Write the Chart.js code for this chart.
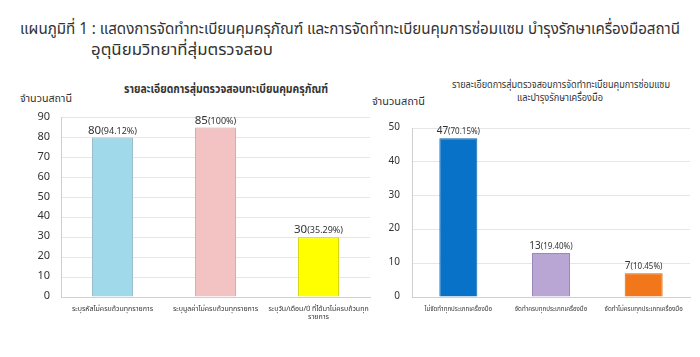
<!DOCTYPE html>
<html>
<head>
<meta charset="utf-8">
<script src="https://cdn.jsdelivr.net/npm/chart.js@4"></script>
<style>
html,body{margin:0;padding:0;background:#fff;}
body{width:700px;height:357px;position:relative;overflow:hidden;font-family:Tahoma,"Noto Sans Thai","Noto Sans","DejaVu Sans",sans-serif;color:#333;}
.t{position:absolute;white-space:nowrap;transform-origin:0 0;}
canvas{position:absolute;}
</style>
</head>
<body>
<div class="t fit" data-x="20" data-w="660" style="top:17px;font-size:16px;">แผนภูมิที่ 1 : แสดงการจัดทำทะเบียนคุมครุภัณฑ์ และการจัดทำทะเบียนคุมการซ่อมแซม บำรุงรักษาเครื่องมือสถานี</div>
<div class="t fit" data-x="91" data-w="182" style="top:38px;font-size:16px;">อุตุนิยมวิทยาที่สุ่มตรวจสอบ</div>
<div class="t fit" data-x="124" data-w="204" style="top:80px;font-size:12px;font-weight:bold;">รายละเอียดการสุ่มตรวจสอบทะเบียนคุมครุภัณฑ์</div>
<div class="t fit" data-x="20" data-w="52" style="top:90px;font-size:11px;">จำนวนสถานี</div>
<div class="t fit" data-x="452" data-w="218" style="top:77px;font-size:10px;">รายละเอียดการสุ่มตรวจสอบการจัดทำทะเบียนคุมการซ่อมแซม</div>
<div class="t fit" data-x="517" data-w="86" style="top:90px;font-size:10px;">และบำรุงรักษาเครื่องมือ</div>
<div class="t fit" data-x="372" data-w="53" style="top:93px;font-size:11px;">จำนวนสถานี</div>
<canvas id="c1" width="372" height="257" style="left:0;top:100px;width:372px;height:257px;"></canvas>
<canvas id="c2" width="340" height="247" style="left:360px;top:110px;width:340px;height:247px;"></canvas>
<script>
document.querySelectorAll('.fit').forEach(el => {
  const w = el.getBoundingClientRect().width;
  el.style.left = el.dataset.x + 'px';
  el.style.transform = 'scaleX(' + (parseFloat(el.dataset.w) / w) + ')';
});

const FONT = 'Tahoma, "Noto Sans Thai", "Noto Sans", "DejaVu Sans", sans-serif';

const leftCategories = ["ระบุรหัสไม่ครบถ้วนทุกรายการ", "ระบุมูลค่าไม่ครบถ้วนทุกรายการ", ["ระบุวัน/เดือน/ปี ที่ได้มาไม่ครบถ้วนทุก", "รายการ"]];
const leftValues = [80, 85, 30];
const leftPercents = ["(94.12%)", "(100%)", "(35.29%)"];
const leftColors = ["#9fd9ea", "#f3c2c2", "#ffff00"];
const leftBorders = ["#8fb3c0", "#c9a4a4", "#d0d000"];

const rightCategories = ["ไม่จัดทำทุกประเภทเครื่องมือ", "จัดทำครบทุกประเภทเครื่องมือ", "จัดทำไม่ครบทุกประเภทเครื่องมือ"];
const rightValues = [47, 13, 7];
const rightPercents = ["(70.15%)", "(19.40%)", "(10.45%)"];
const rightColors = ["#0872c8", "#b9a6d4", "#f2761a"];
const rightBorders = ["#0a64b0", "#9a88b8", "#d8660e"];

const valueLabelPlugin = {
  id: 'valueLabels',
  afterDatasetsDraw(chart, args, opts) {
    const ctx = chart.ctx;
    const meta = chart.getDatasetMeta(0);
    const vals = chart.data.datasets[0].data;
    ctx.save();
    ctx.fillStyle = '#333';
    ctx.textBaseline = 'alphabetic';
    ctx.textAlign = 'left';
    meta.data.forEach((bar, i) => {
      const a = String(vals[i]);
      const b = opts.percents[i];
      ctx.font = opts.numSize + 'px ' + FONT;
      const wa = ctx.measureText(a).width;
      ctx.font = opts.pctSize + 'px ' + FONT;
      const wb = ctx.measureText(b).width;
      const x0 = bar.x - (wa + wb) / 2;
      const y = bar.y - 4;
      ctx.font = opts.numSize + 'px ' + FONT;
      ctx.fillText(a, x0, y);
      ctx.font = opts.pctSize + 'px ' + FONT;
      ctx.fillText(b, x0 + wa, y);
    });
    ctx.restore();
  }
};

function makeChart(id, cats, vals, percents, colors, borders, cfg) {
  return new Chart(document.getElementById(id), {
    type: 'bar',
    data: {
      labels: cats,
      datasets: [{
        data: vals,
        backgroundColor: colors,
        borderColor: borders,
        borderWidth: 1,
        categoryPercentage: 1,
        barPercentage: cfg.barPct
      }]
    },
    options: {
      responsive: false,
      animation: false,
      layout: { padding: { left: 0, right: cfg.padRight, top: cfg.padTop, bottom: 0 } },
      plugins: {
        legend: { display: false },
        tooltip: { enabled: false },
        valueLabels: { percents: percents, numSize: cfg.numSize, pctSize: cfg.pctSize }
      },
      scales: {
        x: {
          grid: { display: false, drawTicks: false },
          border: { color: '#d0d0d0' },
          ticks: { color: '#333', font: { family: FONT, size: cfg.xFont }, maxRotation: 0, minRotation: 0, autoSkip: false, padding: cfg.xPad },
          afterFit(s) { s.height = cfg.xHeight; s.paddingLeft = 0; s.paddingRight = 0; }
        },
        y: {
          min: 0, max: cfg.max,
          ticks: { stepSize: 10, color: '#333', font: { family: FONT, size: cfg.yFont }, padding: cfg.yPad },
          grid: { color: '#e6e6e6', drawTicks: false },
          border: { color: '#cfcfcf' },
          afterFit(s) { s.width = cfg.yWidth; }
        }
      }
    },
    plugins: [valueLabelPlugin]
  });
}

makeChart('c1', leftCategories, leftValues, leftPercents, leftColors, leftBorders, {
  barPct: 0.4, padRight: 2, padTop: 16, max: 90, numSize: 11.5, pctSize: 9, xFont: 7, yFont: 11, yPad: 11, yWidth: 61, xHeight: 60, xPad: 8
});
makeChart('c2', rightCategories, rightValues, rightPercents, rightColors, rightBorders, {
  barPct: 0.41, padRight: 10, padTop: 15, max: 50, numSize: 10, pctSize: 8, xFont: 6.2, yFont: 10, yPad: 12, yWidth: 52, xHeight: 60, xPad: 9
});
</script>
</body>
</html>
